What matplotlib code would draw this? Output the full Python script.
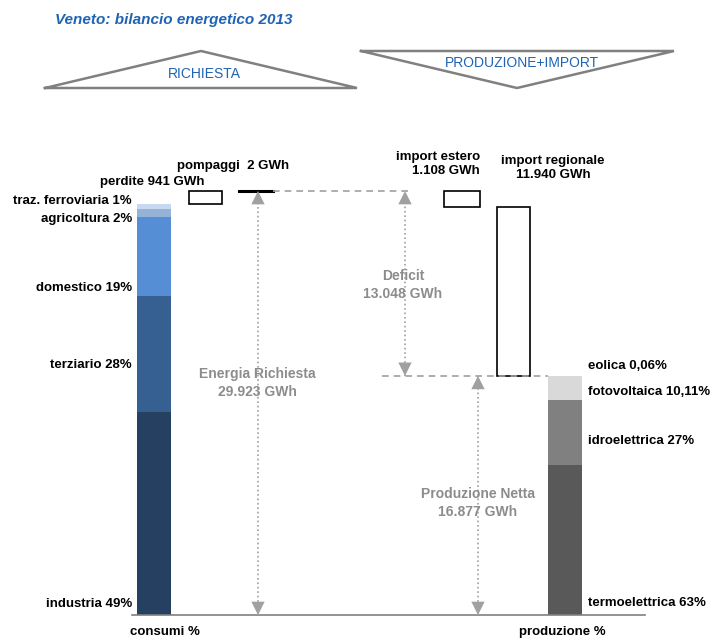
import matplotlib.pyplot as plt
import matplotlib
matplotlib.rcParams['font.family'] = ['Liberation Sans', 'DejaVu Sans']
import numpy as np

# --- data (GWh, %) ---
richiesta = 29923
perdite = 941
pompaggi = 2
import_estero = 1108
import_regionale = 11940
produzione = 16877
deficit = 13048

consumi_labels = ['industria 49%', 'terziario 28%', 'domestico 19%', 'agricoltura 2%', 'traz. ferroviaria 1%']
consumi_pct = [49, 28, 19, 2, 1]
consumi_colors = ['#254061', '#366092', '#558ED5', '#95B3D7', '#C6D9F1']

prod_labels = ['termoelettrica 63%', 'idroelettrica 27%', 'fotovoltaica 10,11%', 'eolica 0,06%']
prod_pct = [63, 27, 10.11, 0.06]
prod_colors = ['#595959', '#808080', '#D9D9D9', '#A6A6A6']

consumi = richiesta - perdite - pompaggi

K = 424 / richiesta  # px per GWh
fig = plt.figure(figsize=(7.2, 6.41), dpi=100)
ax = fig.add_axes([0, 0, 1, 1])
ax.set_xlim(0, 720)
ax.set_ylim(-26 / K, 615 / K)
ax.axis('off')

# overlay in pixel coords for text / decorations
ov = fig.add_axes([0, 0, 1, 1])
ov.set_xlim(0, 720)
ov.set_ylim(641, 0)
ov.axis('off')
ov.patch.set_alpha(0)

grey = '#8C8C8C'
lgrey = '#A0A0A0'
blue = '#1F64B4'

# consumi stacked bar
vals = np.array(consumi_pct) / sum(consumi_pct) * consumi
bottom = 0
for v, c in zip(vals, consumi_colors):
    ax.bar(154, v, width=34, bottom=bottom, color=c, edgecolor='none')
    bottom += v

# produzione stacked bar
vals = np.array(prod_pct) / sum(prod_pct) * produzione
bottom = 0
for v, c in zip(vals, prod_colors):
    ax.bar(565, v, width=34, bottom=bottom, color=c, edgecolor='none')
    bottom += v

# perdite, pompaggi
ax.bar(205.5, perdite, width=33, bottom=consumi, facecolor='white', edgecolor='black', linewidth=1.2)
ax.plot([239, 273], [consumi + perdite + pompaggi] * 2, color='black', lw=2.2)

# imports
ax.bar(513.5, import_regionale, width=33, bottom=produzione, facecolor='white', edgecolor='black', linewidth=1.2)
ax.bar(462, import_estero, width=36, bottom=produzione + import_regionale, facecolor='white', edgecolor='black', linewidth=1.2)

# baseline
ax.plot([132, 645], [0, 0], color='#808080', lw=1.2)

# dashed guides
ax.plot([273, 410], [richiesta] * 2, ls=(0, (4, 3)), color=lgrey, lw=1.2)
ax.plot([382, 548], [produzione] * 2, ls=(0, (4, 3)), color=lgrey, lw=1.2)


def double_arrow(x, y0, y1):
    ax.plot([x, x], [y0, y1], ls=':', color=lgrey, lw=1.2)
    hp = dict(arrowstyle='-|>,head_length=0.8,head_width=0.4', color=lgrey, lw=0,
              mutation_scale=12, shrinkA=0, shrinkB=0)
    ax.annotate('', xy=(x, y1), xytext=(0, -8), textcoords='offset points', arrowprops=hp)
    ax.annotate('', xy=(x, y0), xytext=(0, 8), textcoords='offset points', arrowprops=hp)


double_arrow(258, 0, richiesta)
double_arrow(405, produzione, richiesta)
double_arrow(478, 0, produzione)

fs = 9.5
for lab, y in zip(consumi_labels, [604, 365, 288, 219, 201]):
    ov.text(132, y, lab, ha='right', va='center', fontsize=fs, fontweight='bold')
for lab, y in zip(prod_labels, [603, 441, 392, 366]):
    ov.text(588, y, lab, ha='left', va='center', fontsize=fs, fontweight='bold')

ov.text(204, 182, 'perdite 941 GWh', ha='right', va='center', fontsize=fs, fontweight='bold')
ov.text(289, 166, 'pompaggi  2 GWh', ha='right', va='center', fontsize=fs, fontweight='bold')
ov.text(480, 164, 'import estero\n1.108 GWh', ha='right', va='center', fontsize=fs, fontweight='bold', linespacing=1.3)
ov.text(553, 168, 'import regionale\n11.940 GWh', ha='center', va='center', fontsize=fs, fontweight='bold', linespacing=1.3)

gfs = 10
ov.text(257, 383, 'Energia Richiesta\n29.923 GWh', ha='center', va='center', fontsize=gfs, fontweight='bold', color=grey, linespacing=1.35)
ov.text(403, 285, 'Deficit\n13.048 GWh', ha='center', va='center', fontsize=gfs, fontweight='bold', color=grey, linespacing=1.35)
ov.text(478, 503, 'Produzione Netta\n16.877 GWh', ha='center', va='center', fontsize=gfs, fontweight='bold', color=grey, linespacing=1.35)

ov.text(165, 632, 'consumi %', ha='center', va='center', fontsize=fs, fontweight='bold')
ov.text(562, 632, 'produzione %', ha='center', va='center', fontsize=fs, fontweight='bold')

# title and triangles
ov.text(55, 20, 'Veneto: bilancio energetico 2013', ha='left', va='center', fontsize=11,
        fontweight='bold', fontstyle='italic', color=blue)
ov.plot([45, 201, 357, 45], [88, 51, 88, 88], color='#808080', lw=1.8, solid_joinstyle='miter')
ov.text(204, 74, 'RICHIESTA', ha='center', va='center', fontsize=10, color=blue)
ov.plot([361, 674, 517, 361], [51, 51, 88, 51], color='#808080', lw=1.8, solid_joinstyle='miter')
ov.text(522, 63, 'PRODUZIONE+IMPORT', ha='center', va='center', fontsize=10, color=blue)

fig.savefig('out.png', dpi=100)
